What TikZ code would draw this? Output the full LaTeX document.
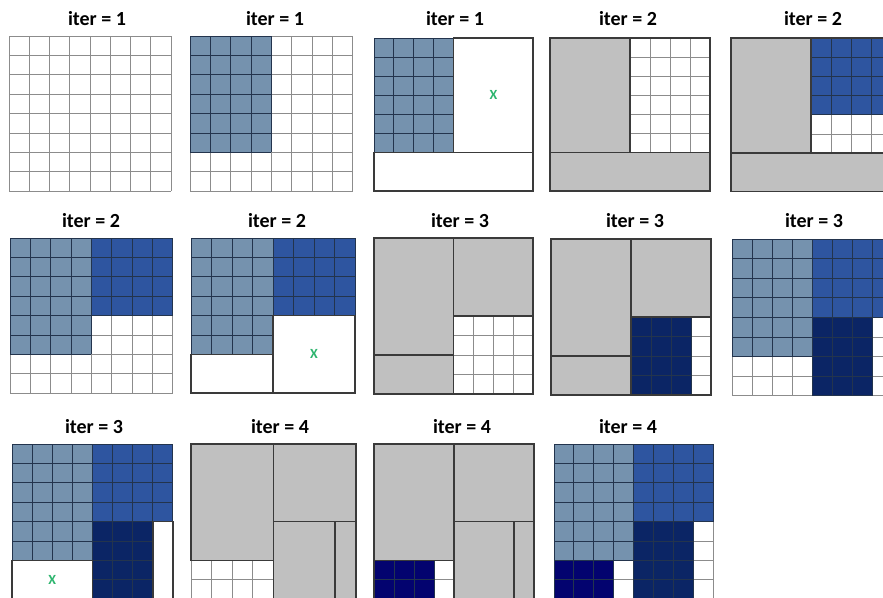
\documentclass[tikz,border=0pt]{standalone}
\usepackage{fontspec}
\setmainfont{Carlito}
\definecolor{lb}{HTML}{7592AE}
\definecolor{mb}{HTML}{2E55A0}
\definecolor{nv}{HTML}{0B2565}
\definecolor{dnv}{HTML}{03036F}
\definecolor{gr}{HTML}{C0C0C0}
\definecolor{gridgray}{HTML}{8C8C8C}
\definecolor{griddark}{HTML}{23344D}
\definecolor{bordc}{HTML}{3A3A3A}
\definecolor{xgreen}{HTML}{2DB56E}
\tikzset{
  wgrid/.style={draw=gridgray, line width=0.9pt},
  bgrid/.style={draw=griddark, line width=0.9pt},
  boxline/.style={draw=bordc, line width=1.6pt},
  ttl/.style={font=\bfseries\fontsize{20}{24}\selectfont, inner sep=0pt},
  xmark/.style={text=xgreen, font=\bfseries\fontsize{14}{16}\selectfont, inner sep=0pt},
}
\newcommand\cg[6]{%
  \fill[#1] (#3,#4) rectangle (#5,#6);
  \foreach \i in {#3,...,#5} {\draw[#2] (\i,#4) -- (\i,#6);}
  \foreach \j in {#4,...,#6} {\draw[#2] (#3,\j) -- (#5,\j);}
}
\newcommand\solidbox[5]{\filldraw[fill=#1, boxline] (#2,#3) rectangle (#4,#5);}
\newcommand\outerbox{\draw[boxline] (0,0) rectangle (8,8);}
\begin{document}
\begin{tikzpicture}[x=1pt,y=-1pt]
\useasboundingbox (0,0) rectangle (883,597);
\fill[white] (0,0) rectangle (883,597);
% titles
\node[ttl] (t1) at (97,19) {iter = 1};
\node[ttl] (t2) at (275,19) {iter = 1};
\node[ttl] (t3) at (455,19) {iter = 1};
\node[ttl] (t4) at (628,19) {iter = 2};
\node[ttl] (t5) at (813,19) {iter = 2};
\node[ttl] (t6) at (91,221) {iter = 2};
\node[ttl] (t7) at (277,221) {iter = 2};
\node[ttl] (t8) at (460,221) {iter = 3};
\node[ttl] (t9) at (635,221) {iter = 3};
\node[ttl] (t10) at (814,221) {iter = 3};
\node[ttl] (t11) at (94,427) {iter = 3};
\node[ttl] (t12) at (280,427) {iter = 4};
\node[ttl] (t13) at (462,427) {iter = 4};
\node[ttl] (t14) at (628,427) {iter = 4};
% panel 1
\begin{scope}[shift={(9,36)}, x=20.25pt, y=-19.4pt]
  \cg{white}{wgrid}{0}{0}{8}{8}
\end{scope}
% panel 2
\begin{scope}[shift={(190,36)}, x=20.35pt, y=-19.4pt]
  \cg{white}{wgrid}{0}{0}{8}{8}
  \cg{lb}{bgrid}{0}{0}{4}{6}
\end{scope}
% panel 3
\begin{scope}[shift={(374,38)}, x=19.9pt, y=-19.1pt]
  \cg{lb}{bgrid}{0}{0}{4}{6}
  \solidbox{white}{4}{0}{8}{6}
  \solidbox{white}{0}{6}{8}{8}
  \node[xmark] (x3) at (6,3) {X};
\end{scope}
% panel 4
\begin{scope}[shift={(550,38)}, x=20pt, y=-19.1pt]
  \cg{white}{wgrid}{4}{0}{8}{6}
  \solidbox{gr}{0}{0}{4}{6}
  \solidbox{gr}{0}{6}{8}{8}
  \outerbox
\end{scope}
% panel 5
\begin{scope}[shift={(731,38)}, x=20pt, y=-19.2pt]
  \cg{white}{wgrid}{4}{4}{8}{6}
  \cg{mb}{bgrid}{4}{0}{8}{4}
  \solidbox{gr}{0}{0}{4}{6}
  \solidbox{gr}{0}{6}{8}{8}
  \outerbox
\end{scope}
% panel 6
\begin{scope}[shift={(10,238)}, x=20.35pt, y=-19.4pt]
  \cg{white}{wgrid}{0}{0}{8}{8}
  \cg{lb}{bgrid}{0}{0}{4}{6}
  \cg{mb}{bgrid}{4}{0}{8}{4}
\end{scope}
% panel 7
\begin{scope}[shift={(191,238)}, x=20.5pt, y=-19.4pt]
  \cg{lb}{bgrid}{0}{0}{4}{6}
  \cg{mb}{bgrid}{4}{0}{8}{4}
  \solidbox{white}{0}{6}{4}{8}
  \solidbox{white}{4}{4}{8}{8}
  \node[xmark] (x7) at (6,6) {X};
\end{scope}
% panel 8
\begin{scope}[shift={(374,238)}, x=19.9pt, y=-19.5pt]
  \cg{white}{wgrid}{4}{4}{8}{8}
  \solidbox{gr}{0}{0}{4}{6}
  \solidbox{gr}{4}{0}{8}{4}
  \solidbox{gr}{0}{6}{4}{8}
  \outerbox
\end{scope}
% panel 9
\begin{scope}[shift={(551,239)}, x=20pt, y=-19.5pt]
  \cg{white}{wgrid}{7}{4}{8}{8}
  \cg{nv}{bgrid}{4}{4}{7}{8}
  \solidbox{gr}{0}{0}{4}{6}
  \solidbox{gr}{4}{0}{8}{4}
  \solidbox{gr}{0}{6}{4}{8}
  \outerbox
\end{scope}
% panel 10
\begin{scope}[shift={(732,239)}, x=20pt, y=-19.6pt]
  \cg{white}{wgrid}{0}{0}{8}{8}
  \cg{lb}{bgrid}{0}{0}{4}{6}
  \cg{mb}{bgrid}{4}{0}{8}{4}
  \cg{nv}{bgrid}{4}{4}{7}{8}
\end{scope}
% panel 11
\begin{scope}[shift={(12,444)}, x=20.1pt, y=-19.4pt]
  \cg{lb}{bgrid}{0}{0}{4}{6}
  \cg{mb}{bgrid}{4}{0}{8}{4}
  \cg{nv}{bgrid}{4}{4}{7}{8}
  \solidbox{white}{0}{6}{4}{8}
  \solidbox{white}{7}{4}{8}{8}
  \node[xmark] (x11) at (2,7) {X};
\end{scope}
% panel 12
\begin{scope}[shift={(191,444)}, x=20.6pt, y=-19.4pt]
  \cg{white}{wgrid}{0}{6}{4}{8}
  \solidbox{gr}{0}{0}{4}{6}
  \solidbox{gr}{4}{0}{8}{4}
  \solidbox{gr}{4}{4}{7}{8}
  \solidbox{gr}{7}{4}{8}{8}
\end{scope}
% panel 13
\begin{scope}[shift={(374,444)}, x=20pt, y=-19.4pt]
  \cg{white}{wgrid}{3}{6}{4}{8}
  \cg{dnv}{bgrid}{0}{6}{3}{8}
  \solidbox{gr}{0}{0}{4}{6}
  \solidbox{gr}{4}{0}{8}{4}
  \solidbox{gr}{4}{4}{7}{8}
  \solidbox{gr}{7}{4}{8}{8}
  \outerbox
\end{scope}
% panel 14
\begin{scope}[shift={(554,444)}, x=19.9pt, y=-19.4pt]
  \cg{white}{wgrid}{0}{0}{8}{8}
  \cg{lb}{bgrid}{0}{0}{4}{6}
  \cg{mb}{bgrid}{4}{0}{8}{4}
  \cg{nv}{bgrid}{4}{4}{7}{8}
  \cg{dnv}{bgrid}{0}{6}{3}{8}
\end{scope}
\end{tikzpicture}
\end{document}
